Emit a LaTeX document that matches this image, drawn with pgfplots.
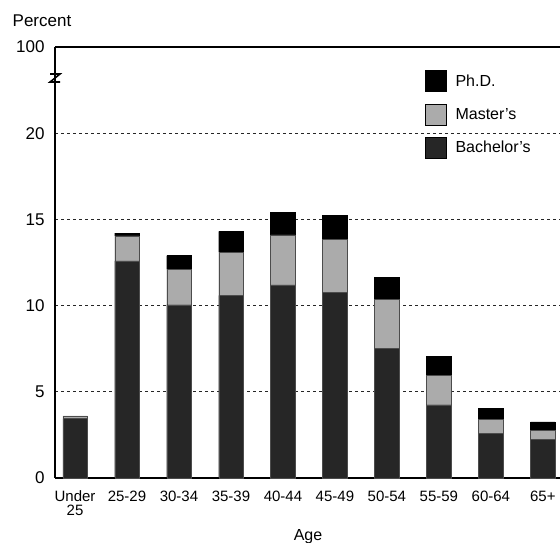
\documentclass[border=0pt]{standalone}
\usepackage{pgfplots}
\pgfplotsset{compat=1.18}
\usepackage{fontspec}
\setmainfont{Liberation Sans}
\pgfplotstableread{
x B M P
0 3.45 0.15 0.0
1 12.6 1.45 0.15
2 10.05 2.05 0.8
3 10.6 2.5 1.2
4 11.2 2.9 1.3
5 10.75 3.1 1.4
6 7.5 2.85 1.3
7 4.25 1.7 1.1
8 2.6 0.8 0.65
9 2.25 0.5 0.5
}\datatable
\begin{document}
\begin{tikzpicture}
\useasboundingbox (0,0) rectangle (560pt,543pt);
\begin{axis}[
  at={(55pt,65pt)}, anchor=south west,
  scale only axis, width=505pt, height=431pt,
  xmin=-0.385, xmax=9.33, ymin=0, ymax=25,
  ybar stacked, bar width=24.5pt,
  clip=false,
  axis x line*=bottom, axis y line*=left,
  axis line style={line width=2.6pt, -},
  xtick={0,...,9},
  xticklabels={{Under\\25},25-29,30-34,35-39,40-44,45-49,50-54,55-59,60-64,65+},
  xticklabel style={align=center, font=\fontsize{15}{14}\selectfont, yshift=-9pt},
  ytick={0,5,10,15,20,25}, yticklabels={0,5,10,15,20,100},
  yticklabel style={font=\fontsize{17}{18}\selectfont, xshift=-7pt},
  /pgf/number format/assume math mode=true,
  major tick length=0pt,
  ymajorgrids,
  grid style={line width=0.9pt, dash pattern=on 3pt off 3pt, black!85},
  legend style={at={(rel axis cs:0.727,0.951)}, anchor=north west, draw=none, fill=none,
    font=\fontsize{16}{18}\selectfont, row sep=12pt, cells={anchor=west}},
  reverse legend,
  legend image code/.code={\draw[#1, draw=black] (0pt,-10.5pt) rectangle (21pt,10.5pt); \path[draw=none, fill=none] (0pt,0pt) -- (28pt,0pt);},
]
\addplot[fill=black!85, draw=black!70] table[x=x, y=B] {\datatable};
\addlegendentry{Bachelor's}
\addplot[fill=black!33, draw=black!70] table[x=x, y=M] {\datatable};
\addlegendentry{Master's}
\addplot[fill=black, draw=black] table[x=x, y=P] {\datatable};
\addlegendentry{Ph.D.}
\draw[line width=2.6pt] (axis cs:-0.385,25) -- (axis cs:9.33,25);
\coordinate (brk) at (axis cs:-0.385,23.2);
\end{axis}
\draw[line width=1.6pt] ([shift={(-5pt,4pt)}]brk) -- ([shift={(5pt,4pt)}]brk) -- ([shift={(-5pt,-4pt)}]brk) -- ([shift={(5pt,-4pt)}]brk);
\node[font=\fontsize{17}{18}\selectfont] at (42pt,522pt) {Percent};
\node[font=\fontsize{16}{18}\selectfont] at (308pt,6pt) {Age};
\end{tikzpicture}
\end{document}
